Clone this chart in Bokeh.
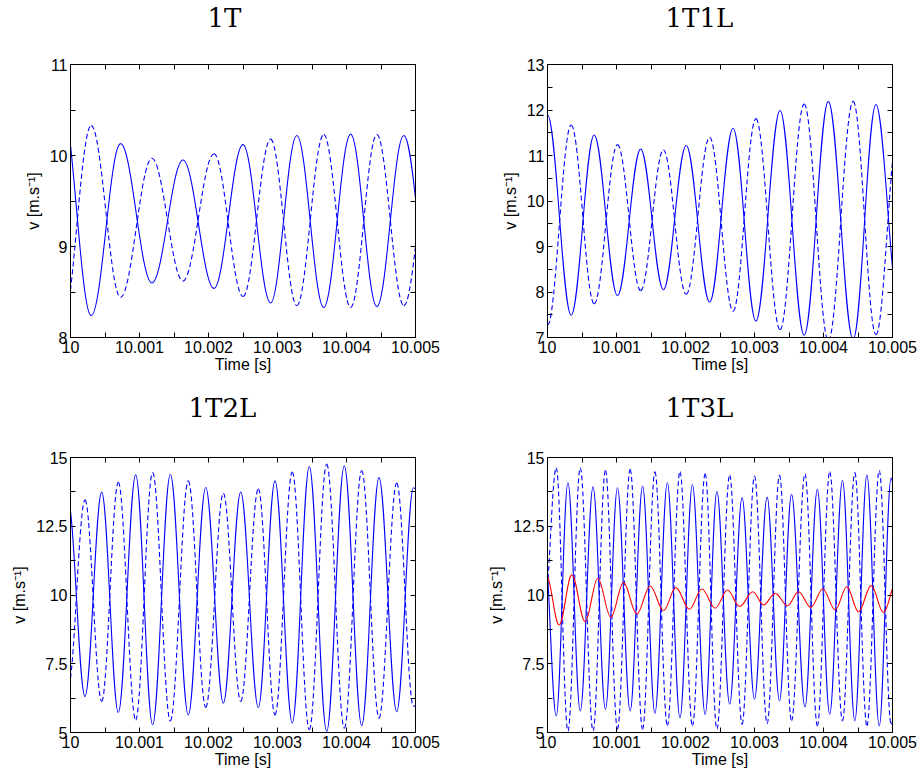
import numpy as np
from bokeh.plotting import figure
from bokeh.models import (Range1d, FixedTicker, LinearAxis, CustomJSTickFormatter,
                          Title, ColumnDataSource)
from bokeh.layouts import column, row
from bokeh.embed import file_html
from bokeh.resources import INLINE

# ---------------------------------------------------------------- texts / ticks
TITLES = ["1T", "1T1L", "1T2L", "1T3L"]
X_LABEL = "Time [s]"
Y_LABEL = "v [m.s\u207b\u00b9]"
X_TICKS = [10.0, 10.001, 10.002, 10.003, 10.004, 10.005]
X_MINOR = [10.0005, 10.0015, 10.0025, 10.0035, 10.0045]
Y_TICKS_1T = [8, 9, 10, 11]
Y_MINOR_1T = [8.5, 9.5, 10.5]
Y_TICKS_1T1L = [7, 8, 9, 10, 11, 12, 13]
Y_MINOR_1T1L = [7.5, 8.5, 9.5, 10.5, 11.5, 12.5]
Y_TICKS_WIDE = [5, 7.5, 10, 12.5, 15]
Y_MINOR_WIDE = [6.25, 8.75, 11.25, 13.75]

# ---------------------------------------------------------------- data (edge values + read extrema)
# 1T
T_1T = [10.0, 10.0003, 10.000725, 10.00118, 10.00163, 10.00208, 10.0025, 10.0029,
        10.00328, 10.00367, 10.00406, 10.00444, 10.00483, 10.005]
V_1T_SOLID = [10.11, 8.24, 10.13, 8.60, 9.95, 8.54, 10.12, 8.38, 10.22, 8.33, 10.235, 8.34, 10.22, 9.53]
V_1T_DASHED = [8.52, 10.33, 8.44, 9.97, 8.62, 10.02, 8.45, 10.18, 8.35, 10.23, 8.33, 10.23, 8.35, 9.0]

# 1T1L
T_1T1L = [10.0, 10.000343, 10.000676, 10.001014, 10.00135, 10.00168, 10.00201, 10.00235,
          10.00269, 10.00302, 10.00337, 10.00372, 10.00407, 10.00443, 10.00476, 10.005]
V_1T1L_SOLID = [11.89, 7.49, 11.45, 7.92, 11.14, 8.05, 11.22, 7.78, 11.60, 7.36, 11.99, 7.05,
                12.19, 6.96, 12.12, 8.54]
V_1T1L_DASHED = [7.27, 11.67, 7.74, 11.24, 8.03, 11.12, 7.95, 11.40, 7.58, 11.81, 7.17, 12.13,
                 6.93, 12.19, 7.06, 10.87]

# 1T2L
T_1T2L = [10.0, 10.00021, 10.000452, 10.000693, 10.000945, 10.00119, 10.001447, 10.001707,
          10.00196, 10.002215, 10.002467, 10.002722, 10.002964, 10.003214, 10.003461,
          10.003713, 10.003968, 10.00422, 10.004471, 10.004728, 10.00497, 10.005]
V_1T2L_SOLID = [13.04, 6.31, 13.74, 5.73, 14.37, 5.28, 14.39, 5.64, 13.91, 6.07, 13.74, 5.91,
                14.15, 5.34, 14.67, 5.04, 14.70, 5.25, 14.27, 5.76, 13.90, 13.85]
V_1T2L_DASHED = [6.98, 13.46, 6.13, 14.10, 5.46, 14.45, 5.42, 14.15, 5.91, 13.70, 6.13, 13.86,
                 5.64, 14.47, 5.10, 14.76, 5.16, 14.53, 5.52, 14.07, 5.95, 6.0]

# 1T3L
T_1T3L = [10.0, 10.000127, 10.000296, 10.000475, 10.00066, 10.00084, 10.001014, 10.001198,
          10.001378, 10.001557, 10.001737, 10.00192, 10.0021, 10.002285, 10.002455, 10.00264,
          10.00282, 10.003, 10.003183, 10.003362, 10.003537, 10.003731, 10.003911, 10.00409,
          10.004275, 10.004454, 10.004629, 10.004808, 10.00498, 10.005]
V_1T3L_SOLID = [10.8, 5.60, 14.08, 5.78, 13.93, 5.84, 13.90, 5.78, 13.96, 5.70, 14.08, 5.54,
                14.02, 5.66, 13.76, 6.03, 13.54, 6.21, 13.56, 6.15, 13.66, 5.93, 13.84, 5.66,
                14.17, 5.42, 14.36, 5.24, 14.25, 14.1]
V_1T3L_DASHED = [10.3, 14.63, 5.05, 14.63, 5.05, 14.53, 5.12, 14.57, 5.12, 14.48, 5.24, 14.48,
                 5.24, 14.41, 5.12, 14.36, 5.30, 14.33, 5.32, 14.36, 5.42, 14.41, 5.24, 14.48,
                 5.42, 14.45, 5.24, 14.53, 5.30, 5.4]
T_1T3L_RED = [10.0, 10.000169, 10.000353, 10.000546, 10.000729, 10.000918, 10.001101, 10.001295,
              10.001488, 10.001681, 10.00186, 10.002058, 10.002237, 10.00243, 10.002609,
              10.002783, 10.002976, 10.00313, 10.0033, 10.003478, 10.003638, 10.003816,
              10.00399, 10.004169, 10.004338, 10.004507, 10.004691, 10.00487, 10.005]
V_1T3L_RED = [10.67, 8.91, 10.73, 9.03, 10.61, 9.19, 10.45, 9.31, 10.33, 9.43, 10.27, 9.48,
              10.22, 9.52, 10.18, 9.58, 10.12, 9.64, 10.06, 9.61, 10.12, 9.55, 10.22, 9.46,
              10.30, 9.39, 10.34, 9.36, 10.24]

BLUE = "#0000ff"
RED = "#ff0000"
AX_FONT = "Liberation Sans"
TITLE_FONT = "DejaVu Serif"


def wave_source(t, v):
    """Cubic Bezier pieces between consecutive read extrema (flat tangents at extrema)."""
    t = np.asarray(t, float)
    v = np.asarray(v, float)
    n = len(t)
    slope = np.zeros(n)
    H = t[2] - t[1]
    f = min((t[1] - t[0]) / H, 1.0)
    if f < 0.98:
        slope[0] = (v[1] - v[0]) * np.pi * np.sin(np.pi * f) / (H * (1 - np.cos(np.pi * f)))
    H = t[-2] - t[-3]
    f = min((t[-1] - t[-2]) / H, 1.0)
    if f < 0.98:
        slope[-1] = (v[-1] - v[-2]) * np.pi * np.sin(np.pi * f) / (H * (1 - np.cos(np.pi * f)))
    a = np.full(n, 0.363)
    a[0] = 1 / 3 if slope[0] != 0 else 0.363
    a[-1] = 1 / 3 if slope[-1] != 0 else 0.363
    x0, x1 = t[:-1], t[1:]
    y0, y1 = v[:-1], v[1:]
    dt = x1 - x0
    cx0 = x0 + a[:-1] * dt
    cy0 = y0 + slope[:-1] * a[:-1] * dt
    cx1 = x1 - a[1:] * dt
    cy1 = y1 - slope[1:] * a[1:] * dt
    return ColumnDataSource(dict(x0=x0, y0=y0, x1=x1, y1=y1, cx0=cx0, cy0=cy0, cx1=cx1, cy1=cy1))


def draw(p, t, v, color, dash="solid"):
    p.bezier(x0="x0", y0="y0", x1="x1", y1="y1", cx0="cx0", cy0="cy0", cx1="cx1", cy1="cy1",
             source=wave_source(t, v), line_color=color, line_width=1.1, line_dash=dash)


FMT = "return String(parseFloat(tick.toFixed(4)));"


def make_fig(title, ylim, yt, ym, width, height, bl, br, bt, bb, title_off, gap):
    p = figure(width=width, height=height, x_range=Range1d(10, 10.005), y_range=Range1d(*ylim),
               output_backend="svg", toolbar_location=None, x_axis_type=None, y_axis_type=None,
               min_border_left=bl, min_border_right=br, min_border_top=bt, min_border_bottom=bb)
    p.outline_line_color = "black"
    p.outline_line_width = 1
    p.background_fill_color = "white"
    p.border_fill_color = "white"
    xt = FixedTicker(ticks=X_TICKS, minor_ticks=X_MINOR)
    ytk = FixedTicker(ticks=yt, minor_ticks=ym)
    common = dict(major_tick_in=5, major_tick_out=0, minor_tick_in=5, minor_tick_out=0,
                  axis_line_color="black", major_tick_line_color="black",
                  minor_tick_line_color="black")
    xb = LinearAxis(ticker=xt, formatter=CustomJSTickFormatter(code=FMT), axis_label=X_LABEL,
                    major_label_text_font=AX_FONT, major_label_text_font_size="16px",
                    major_label_text_color="black", major_label_standoff=3,
                    axis_label_text_font=AX_FONT, axis_label_text_font_size="16px",
                    axis_label_text_font_style="normal", axis_label_text_color="black",
                    axis_label_standoff=0, **common)
    yl = LinearAxis(ticker=ytk, formatter=CustomJSTickFormatter(code=FMT), axis_label=Y_LABEL,
                    major_label_text_font=AX_FONT, major_label_text_font_size="16px",
                    major_label_text_color="black", major_label_standoff=3,
                    axis_label_text_font=AX_FONT, axis_label_text_font_size="16px",
                    axis_label_text_font_style="normal", axis_label_text_color="black",
                    axis_label_standoff=5, **common)
    empty = "return '';"
    xa = LinearAxis(ticker=xt, formatter=CustomJSTickFormatter(code=empty),
                    major_label_text_font_size="0px", major_label_standoff=0, **common)
    yr = LinearAxis(ticker=ytk, formatter=CustomJSTickFormatter(code=empty),
                    major_label_text_font_size="0px", major_label_standoff=0, **common)
    p.add_layout(xb, "below")
    p.add_layout(yl, "left")
    p.add_layout(xa, "above")
    p.add_layout(yr, "right")
    # blank (white) spacer row between the top axis and the title, pushing the title upward
    p.add_layout(Title(text=" ", text_font=TITLE_FONT, text_font_size="26px",
                       text_color="white", standoff=gap), "above")
    p.add_layout(Title(text=title, align="left", offset=title_off, text_font=TITLE_FONT,
                       text_font_size="26px", text_font_style="normal", text_color="black",
                       standoff=0), "above")
    return p


p1 = make_fig(TITLES[0], (8, 11), Y_TICKS_1T, Y_MINOR_1T, 470, 387, 70, 55, 62, 50, 137, 0)
draw(p1, T_1T, V_1T_SOLID, BLUE)
draw(p1, T_1T, V_1T_DASHED, BLUE, "5 3")

p2 = make_fig(TITLES[1], (7, 13), Y_TICKS_1T1L, Y_MINOR_1T1L, 448, 387, 77, 26, 62, 50, 118, 0)
draw(p2, T_1T1L, V_1T1L_SOLID, BLUE)
draw(p2, T_1T1L, V_1T1L_DASHED, BLUE, "5 3")

p3 = make_fig(TITLES[2], (5, 15), Y_TICKS_WIDE, Y_MINOR_WIDE, 470, 383, 70, 55, 70, 38, 118, 3)
draw(p3, T_1T2L, V_1T2L_SOLID, BLUE)
draw(p3, T_1T2L, V_1T2L_DASHED, BLUE, "5 3")

p4 = make_fig(TITLES[3], (5, 15), Y_TICKS_WIDE, Y_MINOR_WIDE, 448, 383, 77, 26, 70, 38, 118, 3)
draw(p4, T_1T3L, V_1T3L_SOLID, BLUE)
draw(p4, T_1T3L, V_1T3L_DASHED, BLUE, "5 3")
draw(p4, T_1T3L_RED, V_1T3L_RED, RED)

layout = column(row(p1, p2), row(p3, p4))
open("out.html", "w").write(file_html(layout, INLINE))
